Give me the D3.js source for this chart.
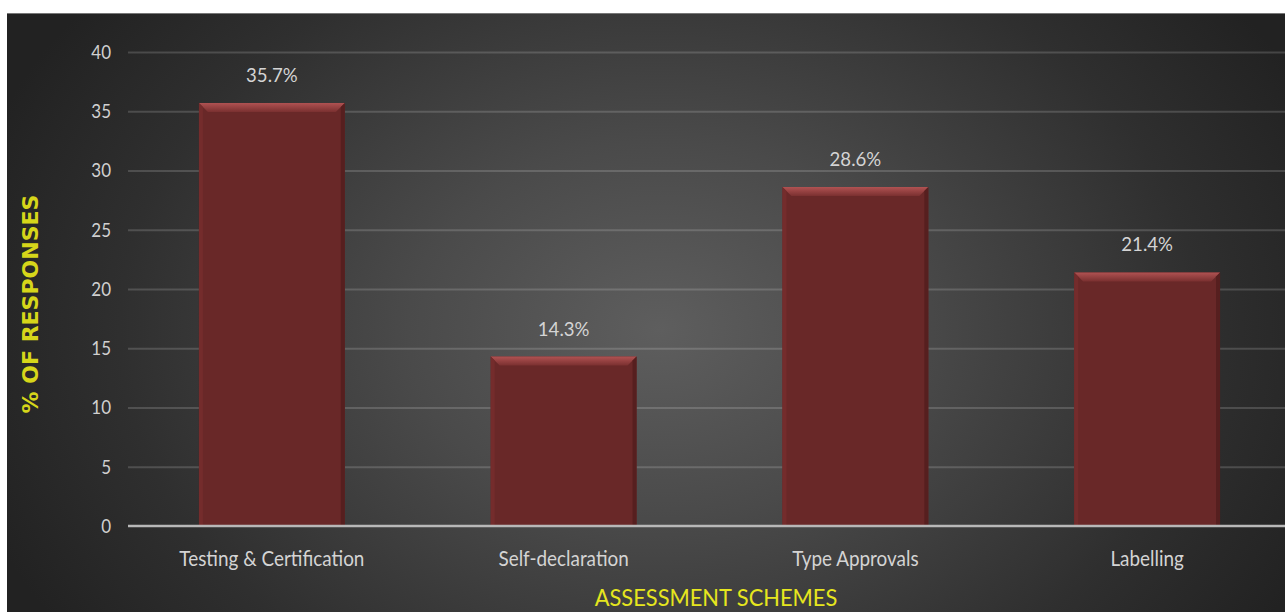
<!DOCTYPE html>
<html><head><meta charset="utf-8">
<script src="https://cdn.jsdelivr.net/npm/d3@7"></script>
<style>
html,body{margin:0;padding:0;background:#fff;}
svg{display:block;}
</style></head>
<body>
<svg id="chart" width="1285" height="612"></svg>
<script>
const categories = ["Testing & Certification", "Self-declaration", "Type Approvals", "Labelling"];
const values = [35.7, 14.3, 28.6, 21.4];
const valueLabels = ["35.7%", "14.3%", "28.6%", "21.4%"];
const yTicks = [0, 5, 10, 15, 20, 25, 30, 35, 40];
const yTitle = "% OF RESPONSES";
const xTitle = "ASSESSMENT SCHEMES";

const W = 1285, H = 612;
const FONT = "Lato, 'Open Sans', sans-serif";
const svg = d3.select("#chart");
const defs = svg.append("defs");

const bg = defs.append("radialGradient").attr("id","bg")
  .attr("gradientUnits","userSpaceOnUse").attr("cx",660).attr("cy",330).attr("r",720)
  .attr("gradientTransform","translate(660,330) scale(1,0.75) translate(-660,-330)");
bg.append("stop").attr("offset","0").attr("stop-color","#5e5e5e");
bg.append("stop").attr("offset","0.35").attr("stop-color","#4a4a4a");
bg.append("stop").attr("offset","0.75").attr("stop-color","#2f2f2f");
bg.append("stop").attr("offset","1").attr("stop-color","#222");

svg.append("rect").attr("x",7).attr("y",13).attr("width",W-7).attr("height",H-13).attr("fill","url(#bg)");
svg.append("line").attr("x1",7).attr("x2",W).attr("y1",13.5).attr("y2",13.5).attr("stroke","#777").attr("stroke-width",1);

const margin = {left:128};
const x = d3.scaleBand().domain(categories).range([126, 1293]).paddingInner(0.5).paddingOuter(0.25);
const y = d3.scaleLinear().domain([0,40]).range([526,52]);

// gridlines
const grid = svg.append("g").attr("transform",`translate(${margin.left},0)`)
  .call(d3.axisLeft(y).tickValues(yTicks.filter(d=>d>0)).tickSize(-(W-margin.left)).tickFormat(""));
grid.select(".domain").remove();
grid.selectAll("line").attr("stroke","rgba(255,255,255,0.16)").attr("stroke-width",2);

// y axis labels
const ya = svg.append("g").attr("transform",`translate(${margin.left},0)`)
  .call(d3.axisLeft(y).tickValues(yTicks).tickSize(0).tickPadding(0));
ya.select(".domain").remove();
ya.selectAll("text").attr("x",0).attr("transform","translate(-17,0) scale(0.85,1)")
  .attr("fill","#d0d0d0").attr("font-family",FONT).attr("font-size",20);

// bars with bevel
const barGrad = defs.append("linearGradient").attr("id","barTop").attr("x1",0).attr("x2",0).attr("y1",0).attr("y2",1);
barGrad.append("stop").attr("offset","0").attr("stop-color","#b05252");
barGrad.append("stop").attr("offset","1").attr("stop-color","#7a3030");

const bars = svg.append("g").selectAll("g").data(values).enter().append("g");
bars.append("rect")
  .attr("x",(d,i)=>x(categories[i])).attr("y",d=>y(d))
  .attr("width",x.bandwidth()).attr("height",d=>y(0)-y(d))
  .attr("fill","#692828");
bars.append("path").attr("d",(d,i)=>{
  const x0=x(categories[i]), x1=x0+x.bandwidth(), y0=y(d), b=9;
  return `M${x0},${y0}L${x1},${y0}L${x1-b},${y0+b}L${x0+b},${y0+b}Z`;
}).attr("fill","url(#barTop)");
bars.append("path").attr("d",(d,i)=>{
  const x0=x(categories[i]), y0=y(d), b=4;
  return `M${x0},${y0}L${x0+b},${y0+b}L${x0+b},${y(0)}L${x0},${y(0)}Z`;
}).attr("fill","#742c2c");
bars.append("path").attr("d",(d,i)=>{
  const x1=x(categories[i])+x.bandwidth(), y0=y(d), b=4;
  return `M${x1},${y0}L${x1-b},${y0+b}L${x1-b},${y(0)}L${x1},${y(0)}Z`;
}).attr("fill","#561f1f");

// value labels
bars.append("text")
  .attr("transform",(d,i)=>`translate(${x(categories[i])+x.bandwidth()/2},${y(d)-21}) scale(0.93,1)`)
  .attr("text-anchor","middle").attr("fill","#d4d4d4")
  .attr("font-family",FONT).attr("font-size",20)
  .text((d,i)=>valueLabels[i]);

// baseline
svg.append("line").attr("x1",margin.left).attr("x2",W).attr("y1",y(0)).attr("y2",y(0))
  .attr("stroke","#b8b8b8").attr("stroke-width",2.5);

// x axis labels
const xa = svg.append("g").attr("transform",`translate(0,${y(0)})`)
  .call(d3.axisBottom(x).tickSize(0).tickPadding(25));
xa.select(".domain").remove();
xa.selectAll("text").attr("transform","scale(0.9,1)")
  .attr("fill","#d4d4d4").attr("font-family",FONT).attr("font-size",21);

// titles
svg.append("text").attr("transform","translate(716,606) scale(0.91,1)").attr("text-anchor","middle")
  .attr("fill","#e6e61e").attr("font-family",FONT)
  .attr("font-size",24).text(xTitle);
svg.append("text").attr("transform","translate(38,304) rotate(-90)").attr("text-anchor","middle")
  .attr("fill","#d6d61a").attr("font-family","'DejaVu Sans',sans-serif").attr("font-weight","bold")
  .attr("font-size",22).text(yTitle);
</script>
</body></html>
